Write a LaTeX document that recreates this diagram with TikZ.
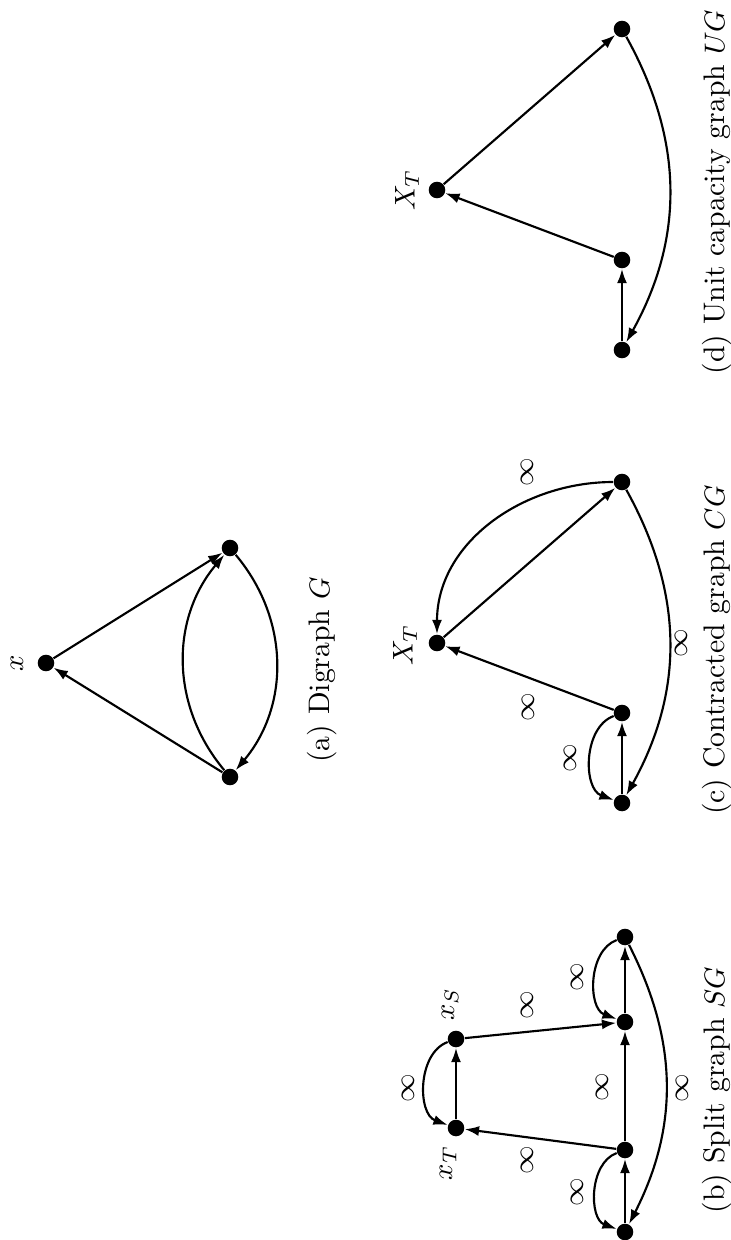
\documentclass[tikz,border=0pt]{standalone}
\usetikzlibrary{arrows.meta}
\begin{document}
\begin{tikzpicture}[x=0.35pt,y=0.35pt,
  dot/.style={circle,fill=black,inner sep=0pt,minimum size=5.8pt},
  arr/.style={-{Latex[length=5pt,width=3.5pt]},line width=0.75pt},
  lbl/.style={rotate=90,inner sep=0pt,font=\fontsize{10.4}{12}\selectfont},
  captxt/.style={rotate=90,inner sep=0pt,font=\fontsize{10.4}{12}\selectfont}]
\useasboundingbox (0,0) rectangle (731,-1240);

% ---------- (a) Digraph G ----------
\node[dot] (aX) at (46,-663) {};
\node[dot] (aT) at (230,-548) {};
\node[dot] (aB) at (230,-777) {};
\node[lbl] (aXl) at (17,-663) {$x$};
\draw[arr] (aX) -- (aT);
\draw[arr] (aB) -- (aX);
\draw[arr] (aT) to[bend left=40] (aB);
\draw[arr] (aB) to[bend left=40] (aT);
\node[captxt] (capa) at (322,-670) {(a) Digraph $G$};

% ---------- (b) Split graph SG ----------
\node[dot] (xS) at (456,-1039) {};
\node[dot] (xT) at (456,-1128) {};
\node[dot] (r1) at (625,-937) {};
\node[dot] (r2) at (625,-1022) {};
\node[dot] (r3) at (625,-1150) {};
\node[dot] (r4) at (625,-1232) {};
\node[lbl] (xSl) at (450,-1004) {$x_S$};
\node[lbl] (xTl) at (448,-1163) {$x_T$};
\draw[arr] (xT) -- (xS);
\draw[arr] (xS) to[bend right=70] (xT);
\draw[arr] (xS) -- (r2);
\draw[arr] (r3) -- (xT);
\draw[arr] (r3) -- (r2);
\draw[arr] (r4) -- (r3);
\draw[arr] (r3) to[bend right=70] (r4);
\draw[arr] (r2) -- (r1);
\draw[arr] (r1) to[bend right=70] (r2);
\draw[arr] (r1) to[bend left=27] (r4);
\node[lbl] (b1) at (408,-1088) {$\infty$};
\node[lbl] (b2) at (527,-1005) {$\infty$};
\node[lbl] (b3) at (527,-1160) {$\infty$};
\node[lbl] (b4) at (577,-977) {$\infty$};
\node[lbl] (b5) at (602,-1087) {$\infty$};
\node[lbl] (b6) at (577,-1192) {$\infty$};
\node[lbl] (b7) at (682,-1088) {$\infty$};
\node[captxt] (capb) at (717,-1090) {(b) Split graph $SG$};

% ---------- (c) Contracted graph CG ----------
\node[dot] (cT) at (622,-482) {};
\node[dot] (cX) at (437,-643) {};
\node[dot] (cM) at (622,-713) {};
\node[dot] (cB) at (622,-803) {};
\node[lbl] (cXl) at (405,-645) {$X_T$};
\draw[arr] (cT) to[out=180,in=90] (cX);
\draw[arr] (cX) -- (cT);
\draw[arr] (cM) -- (cX);
\draw[arr] (cB) -- (cM);
\draw[arr] (cM) to[bend right=70] (cB);
\draw[arr] (cT) to[bend left=29] (cB);
\node[lbl] (c1) at (527,-472) {$\infty$};
\node[lbl] (c2) at (528,-707) {$\infty$};
\node[lbl] (c3) at (570,-758) {$\infty$};
\node[lbl] (c4) at (681,-643) {$\infty$};
\node[captxt] (capc) at (717,-650) {(c) Contracted graph $CG$};

% ---------- (d) Unit capacity graph UG ----------
\node[dot] (dT) at (622,-29) {};
\node[dot] (dX) at (437,-190) {};
\node[dot] (dM) at (622,-260) {};
\node[dot] (dB) at (622,-350) {};
\node[lbl] (dXl) at (407,-190) {$X_T$};
\draw[arr] (dX) -- (dT);
\draw[arr] (dM) -- (dX);
\draw[arr] (dB) -- (dM);
\draw[arr] (dT) to[bend left=29] (dB);
\node[captxt] (capd) at (717,-192) {(d) Unit capacity graph $UG$};
\end{tikzpicture}
\end{document}
